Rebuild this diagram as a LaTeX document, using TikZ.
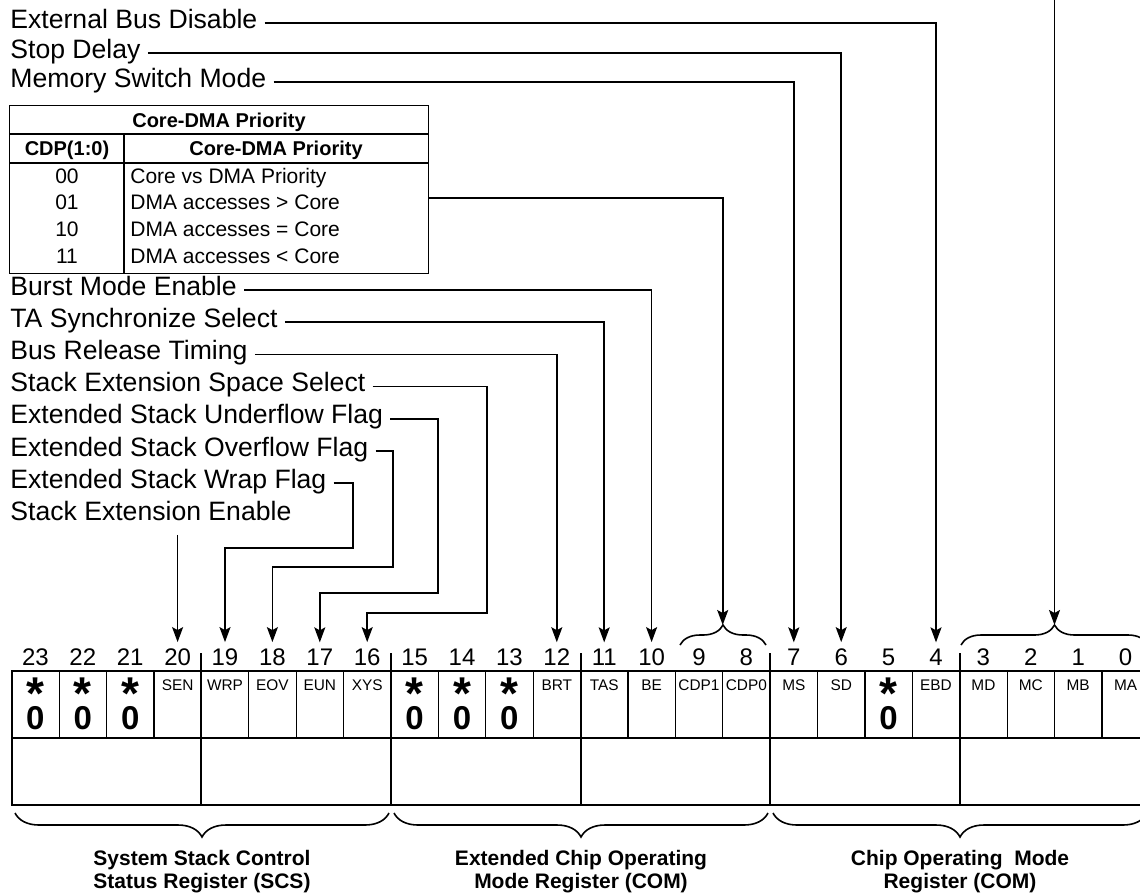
\documentclass[tikz,border=0pt]{standalone}
\usepackage{fontspec}
\setmainfont{Liberation Sans}
\usetikzlibrary{arrows.meta,decorations.pathreplacing}

\tikzset{
  lbl/.style={anchor=base west, inner sep=3.5pt, text height=8.5pt, text depth=3.5pt,
    font=\fontsize{13.3}{16}\selectfont},
  bitnum/.style={inner sep=3pt, font=\fontsize{12}{14}\selectfont},
  bitcell/.style={draw, line width=0.6pt, minimum width=23.7pt, minimum height=33.5pt, inner sep=0pt},
  grpcell/.style={draw, line width=1pt, minimum width=94.8pt, minimum height=33.5pt, inner sep=0pt},
  fld/.style={inner sep=0pt, anchor=north, font=\fontsize{7.7}{9}\selectfont},
  rsv/.style={inner sep=0pt, anchor=base, font=\fontsize{16.5}{18}\selectfont\bfseries},
  rsvstar/.style={inner sep=0pt, anchor=base, font=\fontsize{23}{23}\selectfont\bfseries},
  wire/.style={line width=0.8pt},
  arr/.style={line width=0.8pt, -{Stealth[length=7.5pt,width=5.5pt,inset=1.5pt]}},
  brc/.style={decorate, decoration={brace, amplitude=10pt}, line width=0.8pt},
  regname/.style={align=center, anchor=north, inner sep=0pt,
    font=\fontsize{10.5}{11.5}\selectfont\bfseries},
  tbltxt/.style={anchor=base, inner sep=0pt, font=\fontsize{10.5}{12}\selectfont},
  tblhead/.style={anchor=base, inner sep=0pt, font=\fontsize{10}{12}\selectfont\bfseries}
}

\begin{document}
\begin{tikzpicture}[x=0.5pt, y=-0.5pt]

    \useasboundingbox (0,0) rectangle (1140,895);

    % Bit numbers and cells
    \foreach \b in {0,...,23} {
        \node[bitcell] (c\b) at ({35.4+(23-\b)*47.4},704.5) {};
        \node[bitnum] (n\b) at ({35.4+(23-\b)*47.4},657) {\b};
    }

    % Lower row, one box for every 4 bits
    \foreach \g in {0,...,5}
        \node[grpcell] (g\g) at ({106.5+\g*189.6},771.5) {};

    % Frame and group separators
    \draw[line width=1pt] (11.7,671) rectangle (1149.3,805);
    \draw[line width=1pt] (11.7,738) -- (1149.3,738);
    \foreach \k in {1,...,5}
        \draw[line width=1pt] ({11.7+\k*189.6},653) -- ({11.7+\k*189.6},805);

    % Field names
    \foreach \b/\t in {20/SEN,19/WRP,18/EOV,17/EUN,16/XYS,12/BRT,11/TAS,10/BE,
                       9/CDP1,8/CDP0,7/MS,6/SD,4/EBD,3/MD,2/MC,1/MB,0/MA}
        \node[fld] (f\b) at ([yshift=-4.5pt]c\b.north) {\t};

    % Reserved bits
    \foreach \b in {23,22,21,15,14,13,5} {
        \node[rsvstar] (st\b) at ([yshift=-19.5pt]c\b.north) {*};
        \node[rsv] (zr\b) at ([yshift=-29.5pt]c\b.north) {0};
    }

    % Braces above bits
    \draw[brc] (680,645) -- (766,645);
    \coordinate (tip98) at (722.7,625);
    \draw[brc] (961,645) -- (1148,645);
    \coordinate (tip30) at (1054.5,625);
    \coordinate (mtop) at (1054.5,-4);

    % Braces below registers
    \draw[brc, decoration={brace, mirror, amplitude=12pt}] (15,813) -- (389,813);
    \coordinate (tipscs) at (202,837);
    \draw[brc, decoration={brace, mirror, amplitude=12pt}] (394,813) -- (768,813);
    \coordinate (tipecom) at (581,837);
    \draw[brc, decoration={brace, mirror, amplitude=12pt}] (773,813) -- (1147,813);
    \coordinate (tipcom) at (960,837);

    \node[regname] (rscs) at ([yshift=-6.5pt]tipscs) {System Stack Control\\Status Register (SCS)};
    \node[regname] (recom) at ([yshift=-6.5pt]tipecom) {Extended Chip Operating\\Mode Register (COM)};
    \node[regname] (rcom) at ([yshift=-6.5pt]tipcom) {Chip Operating\ \ Mode\\Register (COM)};

    % Labels
    \node[lbl] (lEBD) at (3,28) {External Bus Disable};
    \node[lbl] (lSD) at (3,58) {Stop Delay};
    \node[lbl] (lMSM) at (3,87) {Memory Switch Mode};
    \node[lbl] (lBME) at (3,295) {Burst Mode Enable};
    \node[lbl] (lTAS) at (3,327.2) {TA Synchronize Select};
    \node[lbl] (lBRT) at (3,359.4) {Bus Release Timing};
    \node[lbl] (lSESS) at (3,391.6) {Stack Extension Space Select};
    \node[lbl] (lESUF) at (3,423.8) {Extended Stack Underflow Flag};
    \node[lbl] (lESOF) at (3,456) {Extended Stack Overflow Flag};
    \node[lbl] (lESWF) at (3,488.2) {Extended Stack Wrap Flag};
    \node[lbl] (lSEE) at (3,520.4) {Stack Extension Enable};

    % Core-DMA priority table
    \node[draw, line width=0.7pt, minimum width=209.5pt, minimum height=84pt,
          anchor=north west, inner sep=0pt] (tbl) at (9,105) {};
    \draw[line width=0.7pt] (9,134) -- (428,134);
    \draw[line width=0.7pt] (9,163) -- (428,163);
    \draw[line width=0.7pt] (124,134) -- (124,273);
    \node[tblhead] (ttl) at (219,127) {Core-DMA Priority};
    \node[tblhead] (hcdp) at (67,155) {CDP(1:0)};
    \node[tblhead] (hpri) at (276,155) {Core-DMA Priority};
    \foreach \k/\v/\d in {0/00/Core vs DMA Priority, 1/01/DMA accesses > Core,
                          2/10/DMA accesses = Core, 3/11/DMA accesses < Core} {
        \node[tbltxt] (v\k) at (67,{183+\k*26.7}) {\v};
        \node[tbltxt, anchor=base west] (d\k) at (130,{183+\k*26.7}) {\d};
    }

    % Connectors
    \draw[arr] (mtop) -- (tip30);
    \draw[arr] (lEBD.east) -| (n4.north);
    \draw[arr] (lSD.east) -| (n6.north);
    \draw[arr] (lMSM.east) -| (n7.north);
    \draw[arr] ([yshift=-4pt]tbl.east) -| (tip98);
    \draw[arr] (lBME.east) -| (n10.north);
    \draw[arr] (lTAS.east) -| (n11.north);
    \draw[arr] (lBRT.east) -| (n12.north);
    \draw[arr] (lSESS.east) -| (487,613) -| (n16.north);
    \draw[arr] (lESUF.east) -| (438,593) -| (n17.north);
    \draw[arr] (lESOF.east) -| (393,567) -| (n18.north);
    \draw[arr] (lESWF.east) -| (353,548) -| (n19.north);
    \draw[arr] (lSEE.south -| n20.north) -- (n20.north);

\end{tikzpicture}
\end{document}
